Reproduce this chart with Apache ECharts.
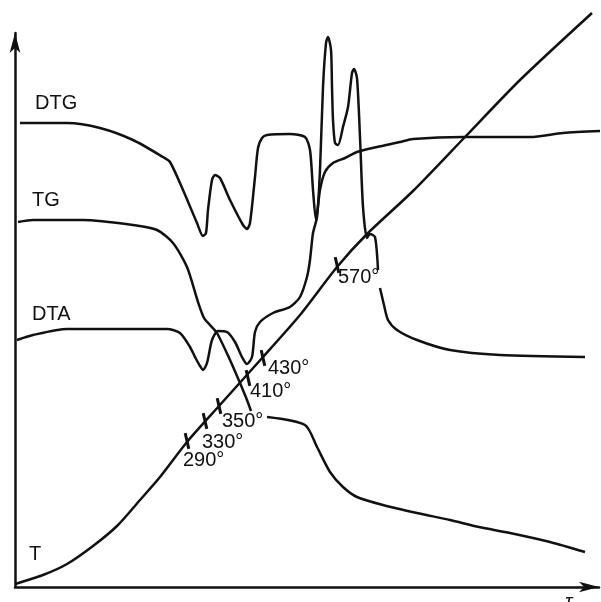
<!DOCTYPE html>
<html>
<head>
<meta charset="utf-8">
<script src="https://cdn.jsdelivr.net/npm/echarts@6/dist/echarts.min.js"></script>
<style>
  html, body { margin: 0; padding: 0; background: #fff; }
  #chart { width: 601px; height: 602px; }
</style>
</head>
<body>
<div id="chart"></div>
<script>
// curves: [time, signal]
const dtgCurve = [
    [5, 464], [52, 464], [85, 459], [118, 447], [148, 430], [155, 425], [168, 397], [182, 364],
    [188, 351], [191, 354], [193, 377], [197, 407], [200, 412], [205, 409], [215, 387], [228, 362],
    [232, 358], [235, 364], [240, 410], [243, 439], [247, 449], [252, 452], [275, 453], [290, 450],
    [295, 437], [298, 397], [301, 367], [305, 397], [310, 415], [318, 424], [330, 429], [342, 435],
    [362, 440], [385, 445], [398, 448], [448, 450], [515, 450], [548, 454], [585, 456]
]
const tgCurve = [
    [3, 365], [18, 367], [68, 367], [118, 362], [142, 357], [158, 344], [172, 320], [183, 285],
    [189, 269], [195, 262], [202, 254], [215, 227], [225, 204], [232, 187], [236, 176], [244, '-'],
    [252, 170], [290, 162], [302, 140], [315, 115], [328, 100], [342, 90], [368, 82], [402, 74],
    [435, 67], [464, 60], [495, 54], [535, 45], [570, 35]
]
const dtaCurve = [
    [2, 247], [18, 252], [52, 258], [85, 258], [152, 258], [165, 254], [175, 240], [180, 230],
    [185, 221], [188, 217], [192, 224], [197, 247], [203, 256], [212, 255], [220, 245], [227, 230],
    [232, 223], [237, 230], [240, 255], [245, 265], [258, 274], [275, 280], [285, 290], [292, 310],
    [295, 327], [298, 354], [302, 370], [305, 417], [308, 500], [311, 544], [313, 550], [316, 537],
    [317, 500], [318, 467], [320, 444], [323, 442], [328, 460], [333, 480], [337, 514], [339, 518],
    [342, 509], [345, 450], [348, 380], [352, 349], [355, 353], [360, 350], [363, 317], [364, '-'],
    [365, 299], [369, 282], [373, 267], [382, 257], [402, 247], [435, 237], [485, 232], [570, 230]
]
const tCurve = [
    [0, 3], [28, 12], [52, 23], [78, 41], [102, 61], [125, 87], [145, 110], [172, 145],
    [204, 181], [248, 230], [285, 272], [322, 320], [352, 353], [398, 396], [450, 450],
    [505, 507], [577, 574]
]
// temperature marks on the T curve
const tickPoints = [[172, 146], [190, 166], [204, 181], [233, 209], [248, 229], [322, 322]]
const tickLabels = ['290°', '330°', '350°', '410°', '430°', '570°']
const tickLabelOffsets = [[-4, 19], [-3, 21], [3, 15], [2, 13], [5, 10], [1, 12]]

const curveNames = ['DTG', 'TG', 'DTA', 'T']
const curveNameOffsets = [[15, -20], [14, -22], [15, -26], [14, -30]]

const ink = '#111'
const font = 'Liberation Sans, Arial, sans-serif'

var chart = echarts.init(document.getElementById('chart'))

function curve(name, data) {
    return {
        name: name,
        type: 'line',
        data: data,
        smooth: 0.25,
        showSymbol: false,
        clip: false,
        lineStyle: { color: ink, width: 2.5 },
        z: 3
    }
}

var option = {
    animation: false,
    backgroundColor: '#fff',
    grid: { left: 15, right: 2, top: 33, bottom: 15 },
    xAxis: {
        type: 'value',
        min: 0,
        max: 584,
        axisLine: { lineStyle: { color: ink, width: 2.5 }, symbol: ['none', 'arrow'], symbolSize: [8, 20] },
        axisTick: { show: false },
        axisLabel: { show: false },
        splitLine: { show: false }
    },
    yAxis: {
        type: 'value',
        min: 0,
        max: 554,
        axisLine: { show: true, lineStyle: { color: ink, width: 2.5 }, symbol: ['none', 'arrow'], symbolSize: [8, 20] },
        axisTick: { show: false },
        axisLabel: { show: false },
        splitLine: { show: false }
    },
    series: [
        curve('DTG', dtgCurve),
        curve('TG', tgCurve),
        curve('DTA', dtaCurve),
        curve('T', tCurve),
        {
            type: 'scatter',
            symbol: 'rect',
            symbolSize: [3, 16],
            symbolRotate: 13,
            itemStyle: { color: ink, opacity: 1 },
            z: 4,
            data: tickPoints.map((p, i) => ({
                value: p,
                label: { formatter: tickLabels[i], offset: tickLabelOffsets[i] }
            })),
            label: {
                show: true,
                position: 'inside',
                align: 'left',
                verticalAlign: 'middle',
                color: ink,
                opacity: 1,
                fontSize: 20,
                fontFamily: font
            }
        }
    ]
}
chart.setOption(option)

// curve names just above where each curve starts
var curves = [dtgCurve, tgCurve, dtaCurve, tCurve]
var texts = curves.map((c, i) => {
    var p = chart.convertToPixel({ gridIndex: 0 }, c[0])
    return {
        type: 'text',
        style: {
            x: p[0] + curveNameOffsets[i][0],
            y: p[1] + curveNameOffsets[i][1],
            text: curveNames[i],
            font: '20px ' + font,
            fill: ink,
            verticalAlign: 'middle'
        }
    }
})
var axisEnd = chart.convertToPixel({ gridIndex: 0 }, [584, 0])
texts.push({
    type: 'text',
    style: {
        x: axisEnd[0] - 34,
        y: axisEnd[1] + 5,
        text: 'τ',
        font: 'italic 20px ' + font,
        fill: ink,
        verticalAlign: 'top'
    }
})
chart.setOption({ graphic: texts })
</script>
</body>
</html>
